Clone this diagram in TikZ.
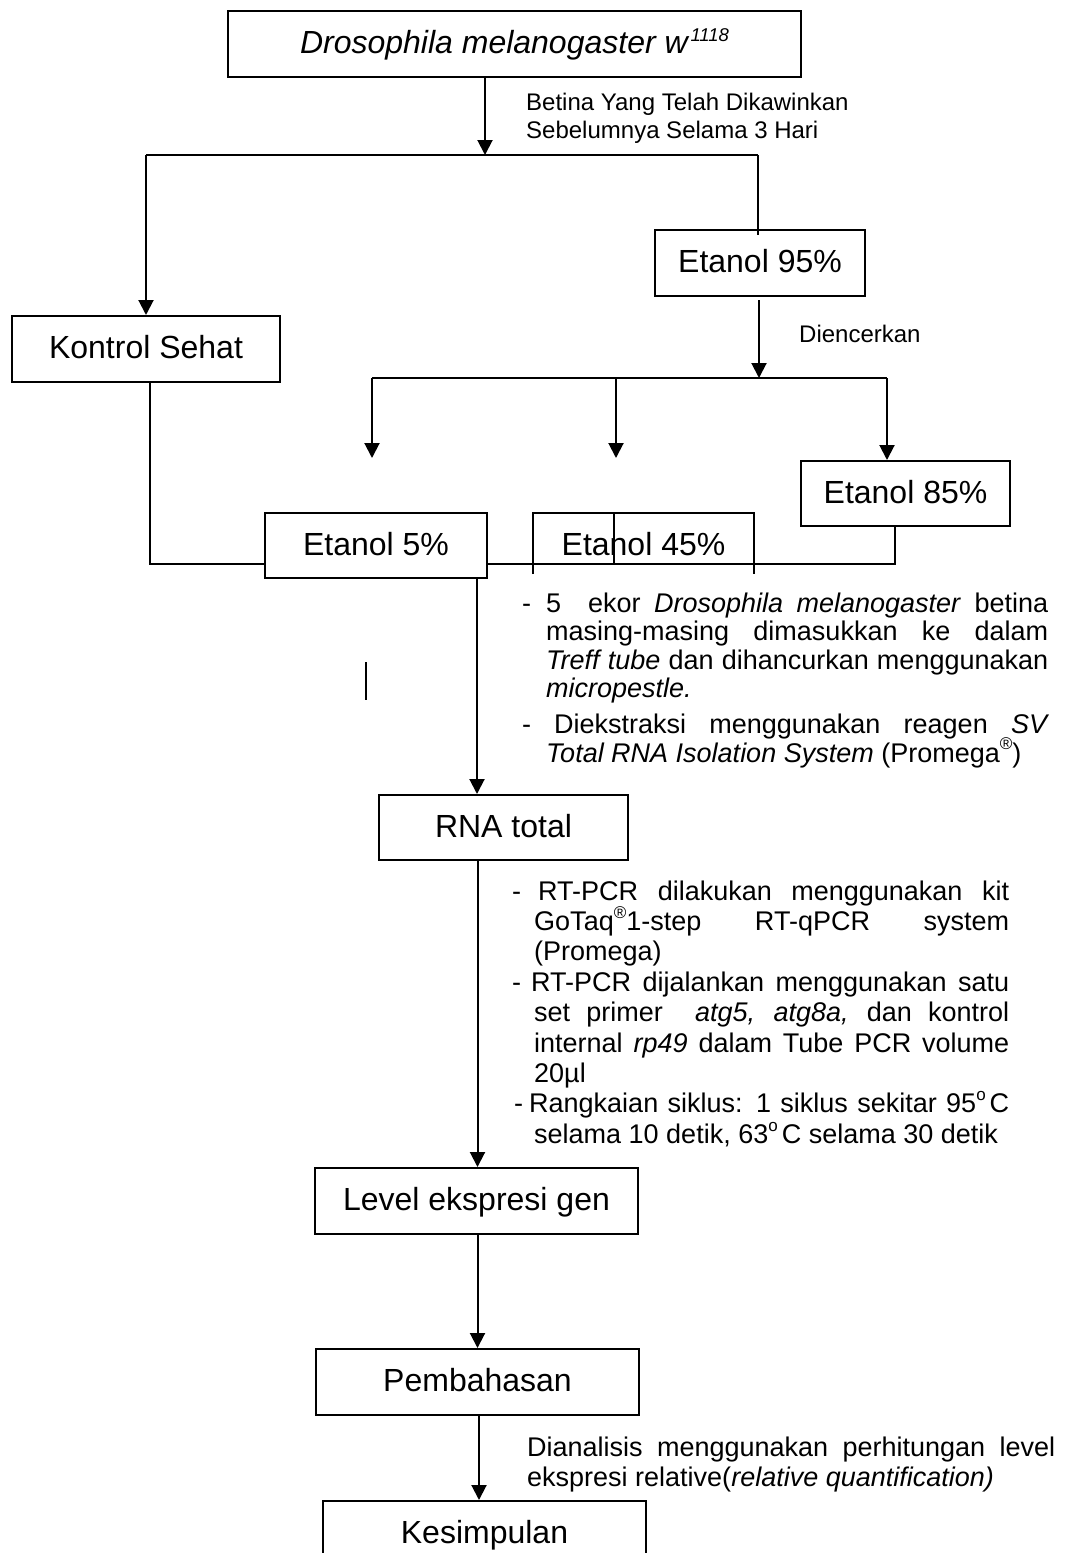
\documentclass[tikz,border=0pt]{standalone}
\usepackage{fontspec}
\setmainfont{Liberation Sans}
\usetikzlibrary{arrows.meta}
\newcommand\bxfont{\fontsize{32}{38}\selectfont}
\newcommand\bdfont{\fontsize{27}{30}\selectfont}
\newcommand\smfont{\fontsize{24}{28}\selectfont}
\newcommand\supsm[1]{\raisebox{0.45em}{\fontsize{17}{18}\selectfont #1}}
\begin{document}
\begin{tikzpicture}[x=1pt,y=-1pt,
  box/.style={draw, line width=2pt, fill=white, inner sep=0pt, font=\bxfont, text height=23pt, text depth=4pt},
  plain/.style={inner sep=0pt, font=\bxfont, text height=23pt, text depth=4pt},
  ln/.style={line width=2pt},
  arr/.style={line width=2pt, -{Triangle[length=15pt,width=15pt]}},
  txt/.style={anchor=base west, inner sep=0pt, font=\bdfont},
  sml/.style={anchor=base west, inner sep=0pt, font=\smfont}]
\useasboundingbox (0,0) rectangle (1066,1553);
\clip (0,0) rectangle (1066,1553);

% boxes (upper part)
\node[box, minimum width=573pt, minimum height=66pt] (top) at (514.5,44) {\textit{Drosophila melanogaster w\/\kern1pt\raisebox{12pt}{\fontsize{18.5}{20}\selectfont 1118}}};
\node[box, minimum width=210pt, minimum height=66pt] (e95) at (760,263) {Etanol 95\%};
\node[box, minimum width=268pt, minimum height=66pt] (ks) at (146,349) {Kontrol Sehat};
\node[box, minimum width=209pt, minimum height=65pt] (e85) at (905.5,493.5) {Etanol 85\%};

% coordinates
\coordinate (j1) at (485,155);
\coordinate (jl) at (146,155);
\coordinate (jr) at (758,155);
\coordinate (s95) at (758,235);
\coordinate (d95) at (759,300);
\coordinate (j2) at (759,378);
\coordinate (j2l) at (372,378);
\coordinate (j2m) at (616,378);
\coordinate (j2r) at (887,378);
\coordinate (a5) at (372,458);
\coordinate (a45) at (616,458);
\coordinate (b1) at (150,564);
\coordinate (b2) at (895,564);
\coordinate (xa) at (477,0);
\coordinate (xb) at (477.5,0);
\coordinate (xc) at (479,0);

% bottom loop behind Etanol 5%
\draw[ln] (ks.south -| b1) -- (b1) -- (b2) -- (e85.south -| b2);

% lower boxes
\node[box, minimum width=222pt, minimum height=65pt] (e5) at (376,545.5) {Etanol 5\%};
\node[plain, minimum width=221pt, minimum height=65pt] (e45) at (643.5,545.5) {Etanol 45\%};
\draw[ln] ([yshift=4pt]e45.south west) -- (e45.north west) -- (e45.north east) -- ([yshift=4pt]e45.south east);
\node[box, minimum width=249pt, minimum height=65pt] (rna) at (503.5,827.5) {RNA total};
\node[box, minimum width=323pt, minimum height=66pt] (leg) at (476.5,1201) {Level ekspresi gen};
\node[box, minimum width=323pt, minimum height=66pt] (pem) at (477.5,1382) {Pembahasan};
\node[box, minimum width=323pt, minimum height=66pt] (kes) at (484.5,1534) {Kesimpulan};

% connectors
\draw[arr] (top.south -| j1) -- (j1);
\draw[ln] (jl) -- (jr);
\draw[arr] (jl) -- (ks.north -| jl);
\draw[ln] (jr) -- (s95);
\draw[arr] (d95) -- (j2);
\draw[ln] (j2l) -- (j2r);
\draw[arr] (j2l) -- (a5);
\draw[arr] (j2m) -- (a45);
\draw[arr] (j2r) -- (e85.north -| j2r);
\draw[ln] (614,513) -- (614,563);
\draw[arr] (e5.south -| xa) -- (rna.north -| xa);
\draw[ln] (366,662) -- (366,700);
\draw[arr] (rna.south -| xb) -- (leg.north -| xb);
\draw[arr] (leg.south -| xb) -- (pem.north -| xb);
\draw[arr] (pem.south -| xc) -- (kes.north -| xc);

% labels
\node[sml] (lb1) at (526,110) {Betina Yang Telah Dikawinkan};
\node[sml] (lb2) at (526,138.5) {Sebelumnya Selama 3 Hari};
\node[sml] (lb3) at (799,342.5) {Diencerkan};

% text block 1
\node[txt] (d1) at (522,612) {-};
\node[txt] (t11) at (546,612) {\makebox[502pt][s]{5\ \ ekor \textit{Drosophila melanogaster} betina}};
\node[txt] (t12) at (546,640.5) {\makebox[502pt][s]{masing-masing dimasukkan ke dalam}};
\node[txt] (t13) at (546,669) {\makebox[502pt][s]{\textit{Treff tube} dan dihancurkan menggunakan}};
\node[txt] (t14) at (546,697.5) {\textit{micropestle.}};
\node[txt] (d2) at (522,733) {-};
\node[txt] (t15) at (554,733) {\makebox[495pt][s]{Diekstraksi menggunakan reagen \textit{SV}}};
\node[txt] (t16) at (546,762) {\textit{Total RNA Isolation System} (Promega\supsm{®})};

% text block 2
\node[txt] (d3) at (512,900) {-};
\node[txt] (t21) at (538,900) {\makebox[471pt][s]{RT-PCR dilakukan menggunakan kit}};
\node[txt] (t22) at (534,930.4) {\makebox[475pt][s]{GoTaq\supsm{®}1-step RT-qPCR system}};
\node[txt] (t23) at (534,960.8) {(Promega)};
\node[txt] (d4) at (512,991.2) {-};
\node[txt] (t24) at (531,991.2) {\makebox[478pt][s]{RT-PCR dijalankan menggunakan satu}};
\node[txt] (t25) at (534,1021.6) {\makebox[475pt][s]{set primer\ \ \textit{atg5, atg8a,} dan kontrol}};
\node[txt] (t26) at (534,1052) {\makebox[475pt][s]{internal \textit{rp49} dalam Tube PCR volume}};
\node[txt] (t27) at (534,1082.4) {20µl};
\node[txt] (d5) at (514,1112.8) {-};
\node[txt] (t28) at (529,1112.8) {\makebox[480pt][s]{Rangkaian siklus: 1 siklus sekitar 95\supsm{o}\kern4pt C}};
\node[txt] (t29) at (534,1143.2) {selama 10 detik, 63\supsm{o}\kern4pt C selama 30 detik};

% text block 3
\node[txt] (t31) at (527,1456) {\makebox[528pt][s]{Dianalisis menggunakan perhitungan level}};
\node[txt] (t32) at (527,1486) {ekspresi relative(\textit{relative quantification)}};
\end{tikzpicture}
\end{document}
